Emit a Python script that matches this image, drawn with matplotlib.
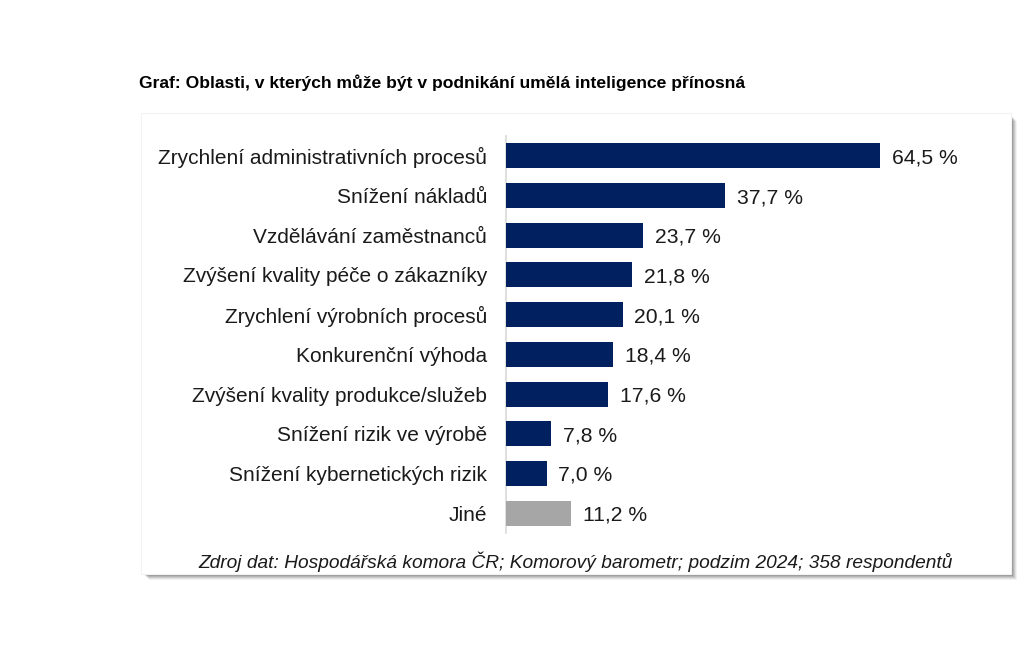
import matplotlib.pyplot as plt
from matplotlib.patches import Rectangle

plt.rcParams["font.family"] = ["Liberation Sans", "DejaVu Sans"]

categories = [
    "Zrychlení administrativních procesů",
    "Snížení nákladů",
    "Vzdělávání zaměstnanců",
    "Zvýšení kvality péče o zákazníky",
    "Zrychlení výrobních procesů",
    "Konkurenční výhoda",
    "Zvýšení kvality produkce/služeb",
    "Snížení rizik ve výrobě",
    "Snížení kybernetických rizik",
    "Jiné",
]
values = [64.5, 37.7, 23.7, 21.8, 20.1, 18.4, 17.6, 7.8, 7.0, 11.2]
NAVY = "#002060"
GREY = "#A6A6A6"
colours = [NAVY] * 9 + [GREY]

W, H = 1024, 659
fig = plt.figure(figsize=(W / 100, H / 100), dpi=100)


def px_rect(x0, y0, x1, y1):
    """Figure-fraction rect from pixel coords (top-left origin)."""
    return [x0 / W, 1 - y1 / H, (x1 - x0) / W, (y1 - y0) / H]


# white panel with a soft drop shadow on the right/bottom
bx0, by0, bx1, by1 = 141, 113, 1011, 574
for i, a in enumerate([0.05, 0.07, 0.09, 0.11, 0.13]):
    off = 6 - i
    r = px_rect(bx0 + off + 2, by0 + off + 2, bx1 + off, by1 + off)
    fig.patches.append(Rectangle((r[0], r[1]), r[2], r[3], transform=fig.transFigure,
                                 facecolor="black", alpha=a, edgecolor="none", zorder=-3))
r = px_rect(bx0, by0, bx1, by1)
fig.patches.append(Rectangle((r[0], r[1]), r[2], r[3], transform=fig.transFigure,
                             facecolor="white", edgecolor="#f2f2f2", lw=0.8, zorder=-2))

ax = fig.add_axes(px_rect(506, 136, 506 + 5.8 * 80, 533))
ax.set_zorder(5)
ax.set_facecolor("none")
ypos = list(range(len(categories)))
ax.barh(ypos, values, height=0.63, color=colours, zorder=3)
ax.set_xlim(0, 80)
ax.set_ylim(len(categories) - 0.5, -0.5)
ax.set_yticks(ypos)
ax.set_yticklabels(categories, fontsize=15, color="#1a1a1a")
ax.tick_params(axis="y", length=0, pad=13.5)
ax.set_xticks([])
for s in ["top", "right", "bottom"]:
    ax.spines[s].set_visible(False)
ax.spines["left"].set_color("#d9d9d9")
ax.spines["left"].set_linewidth(1.2)

for y, v in zip(ypos, values):
    ax.text(v + 2.05, y + 0.05, f"{v:.1f} %".replace(".", ","), va="center", ha="left",
            fontsize=15.2, color="#1a1a1a")

fig.text(139 / W, 1 - 83 / H, "Graf: Oblasti, v kterých může být v podnikání umělá inteligence přínosná",
         fontsize=12.6, fontweight="bold", ha="left", va="center")
fig.text(953 / W, 1 - 562 / H,
         "Zdroj dat: Hospodářská komora ČR; Komorový barometr; podzim 2024; 358 respondentů",
         fontsize=13.8, style="italic", ha="right", va="center", color="#1a1a1a")

fig.savefig("out.png", dpi=100)
